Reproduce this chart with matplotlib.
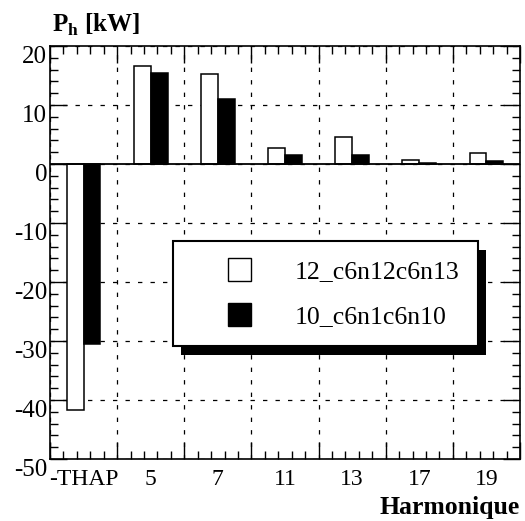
import numpy as np
import matplotlib
matplotlib.use("Agg")
import matplotlib.pyplot as plt
import matplotlib.patches as mpatches
from matplotlib.legend_handler import HandlerPatch
from matplotlib.ticker import FixedLocator

# ---- data ----
categories = ["-THAP", "5", "7", "11", "13", "17", "19"]
series_white = [-41.7, 16.6, 15.3, 2.7, 4.5, 0.6, 1.9]   # 12_c6n12c6n13
series_black = [-30.5, 15.4, 11.1, 1.5, 1.5, 0.2, 0.45]  # 10_c6n1c6n10
label_white = "12_c6n12c6n13"
label_black = "10_c6n1c6n10"
y_ticks = [-50, -40, -30, -20, -10, 0, 10, 20]

plt.rcParams['font.family'] = ['Liberation Serif', 'DejaVu Serif']
plt.rcParams['mathtext.fontset'] = 'custom'
plt.rcParams['mathtext.rm'] = 'Liberation Serif'
plt.rcParams['mathtext.bf'] = 'Liberation Serif:bold'

W, H = 525, 521
fig = plt.figure(figsize=(W / 100, H / 100), dpi=100)
L, R, T, B = 50, 520, 46, 459
ax = fig.add_axes([L / W, (H - B) / H, (R - L) / W, (B - T) / H])

x = np.arange(len(categories))
bw = 0.25
ax.bar(x - bw / 2, series_white, width=bw, facecolor='white', edgecolor='black',
       linewidth=1.1, zorder=3, label=label_white)
ax.bar(x + bw / 2, series_black, width=bw, facecolor='black', edgecolor='black',
       linewidth=1.1, zorder=3, label=label_black)
ax.axhline(0, color='black', lw=1.3, zorder=4)

ax.set_xlim(-0.5, len(categories) - 0.5)
ax.set_ylim(-50, 20)

# ticks
bounds = np.arange(-0.5, len(categories), 1.0)
ax.xaxis.set_major_locator(FixedLocator(bounds))
minors = [b + 0.2 * j for b in bounds[:-1] for j in range(1, 5)]
ax.xaxis.set_minor_locator(FixedLocator(minors))
ax.set_xticklabels([])
ax.set_yticks(y_ticks)
ax.set_yticklabels([str(v) for v in y_ticks], fontsize=18, va='top')
ax.yaxis.set_minor_locator(FixedLocator(np.arange(-50, 21, 2)))
ax.tick_params(which='major', direction='in', length=12, width=1.0,
               top=True, right=True, pad=2)
ax.tick_params(which='minor', direction='in', length=6, width=1.0,
               top=True, right=True)
for s in ax.spines.values():
    s.set_linewidth(1.2)

ax.grid(which='major', color='black', linestyle=(0, (3.5, 6.5)), linewidth=0.9, zorder=1)
ax.set_axisbelow(True)

sec = ax.secondary_xaxis('bottom')
sec.set_xticks(x, categories)
sec.tick_params(length=0, pad=7, labelsize=17)
sec.spines['bottom'].set_visible(False)

# legend
def square(legend, orig_handle, xdescent, ydescent, width, height, fontsize):
    s = 23 * 72 / 100.0
    return mpatches.Rectangle((-xdescent + width - s, -ydescent + (height - s) / 2), s, s)

h1 = mpatches.Patch(facecolor='white', edgecolor='black', linewidth=1.0)
h2 = mpatches.Patch(facecolor='black', edgecolor='black', linewidth=1.0)
leg = ax.legend([h1, h2], [label_white, label_black], loc='upper left',
                bbox_to_anchor=((173 - L) / (R - L), (B - 241) / (B - T)),
                borderaxespad=0, borderpad=0.7, labelspacing=0.78,
                handlelength=2.35, handleheight=0.9, handletextpad=1.7,
                fontsize=18.5, fancybox=False, framealpha=1,
                handler_map={mpatches.Patch: HandlerPatch(patch_func=square)})
leg.get_frame().set_edgecolor('black')
leg.get_frame().set_linewidth(1.5)
leg.set_zorder(6)

fig.canvas.draw()
bb = leg.get_window_extent()
inv = ax.transAxes.inverted()
(x0, y0) = inv.transform((bb.x0 + 8, bb.y0 - 9))
(x1, y1) = inv.transform((bb.x1 + 8, bb.y1 - 9))
ax.add_patch(mpatches.Rectangle((x0, y0), x1 - x0, y1 - y0, transform=ax.transAxes,
                                facecolor='black', edgecolor='none', zorder=5.5,
                                clip_on=False))

fig.text(52 / W, 1 - 32 / H, r"$\mathbf{P}_{\mathbf{h}}$ [kW]", fontsize=18,
         fontweight='bold', ha='left', va='baseline')
fig.text(520 / W, 1 - 514 / H, "Harmonique", fontsize=18.5, fontweight='bold',
         ha='right', va='baseline')

fig.savefig("out.png", dpi=100)
